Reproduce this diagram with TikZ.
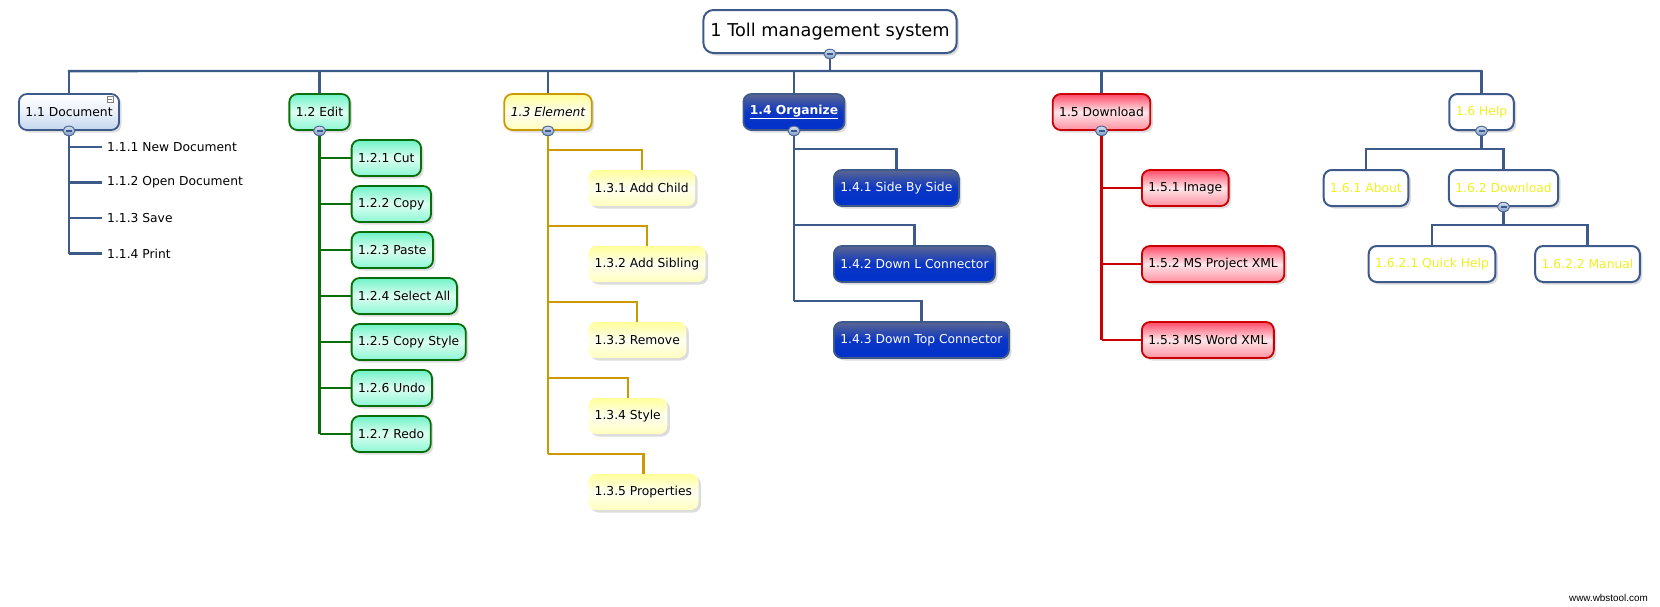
\documentclass[tikz,border=0pt]{standalone}
\usepackage{fontspec}
\setmainfont{DejaVu Sans}
\newfontfamily\wmfont{Liberation Sans}
\usetikzlibrary{shadows,shapes.geometric,calc}
\definecolor{steel}{HTML}{3D5A8A}
\definecolor{dgreen}{HTML}{0A6E0A}
\definecolor{gold}{HTML}{CC9900}
\definecolor{dred}{HTML}{CC0000}
\definecolor{helpyellow}{HTML}{F0F020}
\definecolor{docblue}{HTML}{C3D5EE}
\definecolor{docmid}{HTML}{EAF1FA}
\definecolor{gtop}{HTML}{6FF2C6}
\definecolor{gmid}{HTML}{DDFFF2}
\definecolor{gbot}{HTML}{8CF6D4}
\definecolor{rtop}{HTML}{FF4A66}
\definecolor{rmid}{HTML}{FFE6EA}
\definecolor{rbot}{HTML}{FF90A0}
\definecolor{ytop}{HTML}{FFFF99}
\definecolor{ymid}{HTML}{FFFFF2}
\definecolor{ybot}{HTML}{FFFFBE}
\definecolor{otop}{HTML}{5B6690}
\definecolor{omid}{HTML}{0A36C4}
\definecolor{obot}{HTML}{0030CC}
\definecolor{tgtop}{HTML}{D5E0F0}
\definecolor{tgbot}{HTML}{7F9CC8}
\begin{document}
\begin{tikzpicture}[x=1pt,y=-1pt,
  base/.style={rounded corners=8pt, minimum height=36pt, inner xsep=6.5pt, inner ysep=0pt,
    font=\fontsize{12.3}{14}\selectfont,
    drop shadow={shadow xshift=2.5pt,shadow yshift=-2.5pt,opacity=0.28}},
  rootbox/.style={rounded corners=10pt, minimum height=43pt, inner xsep=7pt, inner ysep=0pt,
    draw=steel, line width=2pt, fill=white, font=\fontsize{17.7}{20}\selectfont,
    drop shadow={shadow xshift=2.5pt,shadow yshift=-2.5pt,opacity=0.28}},
  docbox/.style={base, draw=steel, line width=1.8pt, top color=white, bottom color=docblue, middle color=docmid},
  greenbox/.style={base, draw=dgreen, line width=1.8pt, top color=gtop, bottom color=gbot, middle color=gmid},
  redbox/.style={base, draw=dred, line width=1.8pt, top color=rtop, bottom color=rbot, middle color=rmid},
  elembox/.style={base, draw=gold, line width=1.8pt, top color=ytop, bottom color=ybot, middle color=ymid},
  yellowbox/.style={base, top color=ytop, bottom color=ybot, middle color=ymid},
  orgbox/.style={base, draw=steel, line width=1.8pt, top color=otop, bottom color=obot, middle color=omid, text=white},
  helpbox/.style={base, draw=steel, line width=2pt, fill=white, text=helpyellow},
  leaftext/.style={inner xsep=5pt, inner ysep=0pt, font=\fontsize{12.3}{14}\selectfont, anchor=west},
  steelline/.style={draw=steel, line width=2.3pt},
  greenline/.style={draw=dgreen, line width=2.3pt},
  goldline/.style={draw=gold, line width=2.3pt},
  redline/.style={draw=dred, line width=2.3pt},
  togglebtn/.style={ellipse, minimum width=12pt, minimum height=9.5pt, inner sep=0pt,
    draw=steel!90, line width=1pt, top color=tgtop, bottom color=tgbot,
    path picture={\draw[steel, line width=1.6pt] ([xshift=-3pt]path picture bounding box.center) -- ([xshift=3pt]path picture bounding box.center);}}
]
\useasboundingbox (0,0) rectangle (1660,606);

% root
\node[rootbox] (root) at (830,31.5) {1 Toll management system};

% level 1
\node[docbox] (n11) at (69,112) {1.1 Document};
\node[greenbox] (n12) at (319.5,112) {1.2 Edit};
\node[elembox] (n13) at (548,112) {\itshape 1.3 Element};
\node[orgbox] (n14) at (794,112) {\bfseries\underline{1.4 Organize}};
\node[redbox] (n15) at (1101.5,112) {1.5 Download};
\node[helpbox] (n16) at (1481.5,112) {1.6 Help};

% 1.1 children
\node[leaftext] (c111) at (102,147) {1.1.1 New Document};
\node[leaftext] (c112) at (102,182.5) {1.1.2 Open Document};
\node[leaftext] (c113) at (102,218) {1.1.3 Save};
\node[leaftext] (c114) at (102,253.5) {1.1.4 Print};

% 1.2 children
\node[greenbox, anchor=west] (c121) at (350.7,158) {1.2.1 Cut};
\node[greenbox, anchor=west] (c122) at (350.7,204) {1.2.2 Copy};
\node[greenbox, anchor=west] (c123) at (350.7,250) {1.2.3 Paste};
\node[greenbox, anchor=west] (c124) at (350.7,296) {1.2.4 Select All};
\node[greenbox, anchor=west] (c125) at (350.7,342) {1.2.5 Copy Style};
\node[greenbox, anchor=west] (c126) at (350.7,388) {1.2.6 Undo};
\node[greenbox, anchor=west] (c127) at (350.7,434) {1.2.7 Redo};

% 1.3 children
\node[yellowbox, anchor=west] (c131) at (588,188) {1.3.1 Add Child};
\node[yellowbox, anchor=west] (c132) at (588,264) {1.3.2 Add Sibling};
\node[yellowbox, anchor=west] (c133) at (588,340) {1.3.3 Remove};
\node[yellowbox, anchor=west] (c134) at (588,416) {1.3.4 Style};
\node[yellowbox, anchor=west] (c135) at (588,492) {1.3.5 Properties};

% 1.4 children
\node[orgbox, anchor=west] (c141) at (833,188) {1.4.1 Side By Side};
\node[orgbox, anchor=west] (c142) at (833,264) {1.4.2 Down L Connector};
\node[orgbox, anchor=west] (c143) at (833,340) {1.4.3 Down Top Connector};

% 1.5 children
\node[redbox, anchor=west] (c151) at (1141,188) {1.5.1 Image};
\node[redbox, anchor=west] (c152) at (1141,264) {1.5.2 MS Project XML};
\node[redbox, anchor=west] (c153) at (1141,340) {1.5.3 MS Word XML};

% 1.6 children
\node[helpbox] (c161) at (1366,188) {1.6.1 About};
\node[helpbox] (c162) at (1503.5,188) {1.6.2 Download};
\node[helpbox] (c1621) at (1432,264) {1.6.2.1 Quick Help};
\node[helpbox] (c1622) at (1587.5,264) {1.6.2.2 Manual};

% connectors: root bus
\coordinate (busL) at ([yshift=22pt]n11.north);
\coordinate (busR) at ([yshift=22pt]n16.north);
\draw[steelline] (root.south) -- (root.south |- busL);
\draw[steelline, line cap=rect] (busL) -- (busR);
\foreach \n in {n11,n12,n13,n14,n15,n16}
  \draw[steelline] (\n.north |- busL) -- (\n.north);

% 1.1
\draw[steelline] (n11.south) -- (n11.south |- c114.west);
\foreach \c in {c111,c112,c113,c114}
  \draw[steelline] (n11.south |- \c.west) -- (\c.west);
% 1.2
\draw[greenline] (n12.south) -- (n12.south |- c127.west);
\foreach \c in {c121,c122,c123,c124,c125,c126,c127}
  \draw[greenline] (n12.south |- \c.west) -- (\c.west);
% 1.3
\coordinate (h135) at ([yshift=20pt]c135.north);
\draw[goldline] (n13.south) -- (n13.south |- h135);
\foreach \c in {c131,c132,c133,c134,c135}{
  \coordinate (h) at ([yshift=20pt]\c.north);
  \draw[goldline] (n13.south |- h) -- (h) -- (\c.north);}
% 1.4
\coordinate (h143) at ([yshift=20pt]c143.north);
\draw[steelline] (n14.south) -- (n14.south |- h143);
\foreach \c in {c141,c142,c143}{
  \coordinate (h) at ([yshift=20pt]\c.north);
  \draw[steelline] (n14.south |- h) -- (h) -- (\c.north);}
% 1.5
\draw[redline] (n15.south) -- (n15.south |- c153.west);
\foreach \c in {c151,c152,c153}
  \draw[redline] (n15.south |- \c.west) -- (\c.west);
% 1.6
\coordinate (h161) at ([yshift=20pt]c161.north);
\coordinate (h162) at ([yshift=20pt]c162.north);
\draw[steelline] (n16.south) -- (n16.south |- h161);
\draw[steelline] (c161.north) -- (h161) -- (h162) -- (c162.north);
\coordinate (h1621) at ([yshift=20pt]c1621.north);
\coordinate (h1622) at ([yshift=20pt]c1622.north);
\draw[steelline] (c162.south) -- (c162.south |- h1621);
\draw[steelline] (c1621.north) -- (h1621) -- (h1622) -- (c1622.north);

% collapse toggles
\node[togglebtn] (t0) at (root.south) {};
\node[togglebtn] (t11) at (n11.south) {};
\node[togglebtn] (t12) at (n12.south) {};
\node[togglebtn] (t13) at (n13.south) {};
\node[togglebtn] (t14) at (n14.south) {};
\node[togglebtn] (t15) at (n15.south) {};
\node[togglebtn] (t16) at (n16.south) {};
\node[togglebtn] (t162) at (c162.south) {};

% small icon on 1.1 Document
\draw[gray, line width=0.8pt, fill=white] ([xshift=-13pt,yshift=-3pt]n11.north east) rectangle +(6,6);
\draw[gray, line width=0.8pt] ([xshift=-12pt,yshift=-6pt]n11.north east) -- +(4,0);

% watermark
\node[anchor=east, inner sep=0pt, font=\wmfont\fontsize{9.9}{11}\selectfont] (wm) at (1648,598) {www.wbstool.com};
\end{tikzpicture}
\end{document}
